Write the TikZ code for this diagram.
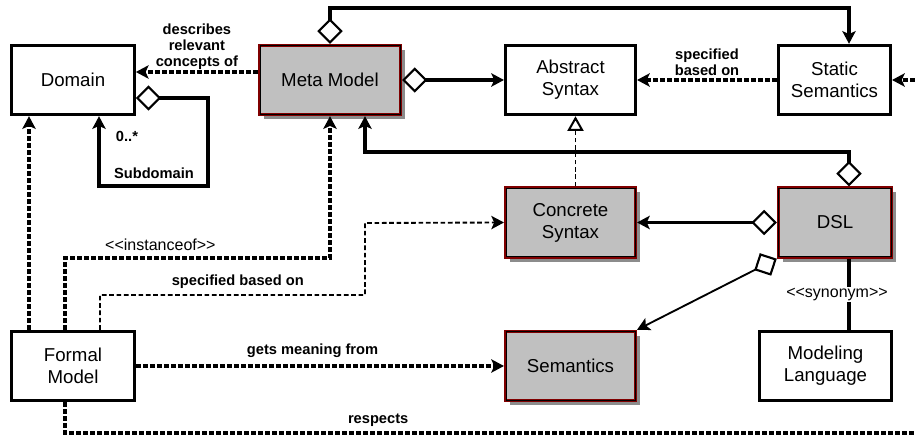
\documentclass[tikz,border=0pt]{standalone}
\usepackage{fontspec}
\setmainfont{Liberation Sans}
\usetikzlibrary{arrows.meta,positioning,calc,shadows}
\definecolor{boxgrey}{RGB}{192,192,192}
\definecolor{boxred}{RGB}{128,0,0}
\newcommand\stlt{<\kern0pt<}
\newcommand\stgt{>\kern0pt>}

\tikzset{
  box/.style={draw, line width=2.3pt, fill=white, minimum height=52pt, align=center,
    font=\fontsize{14}{16.5}\selectfont, inner sep=2pt},
  greybox/.style={box, draw=boxred, fill=boxgrey,
    drop shadow={shadow xshift=3.5pt, shadow yshift=-3.5pt, fill=black!45, opacity=1}},
  rim/.style={draw=black, line width=0.7pt},
  lbl/.style={font=\bfseries\fontsize{11}{12}\selectfont, align=center, inner sep=1pt},
  stereo/.style={font=\fontsize{12}{13}\selectfont, inner sep=1pt},
  solidl/.style={line width=2.3pt},
  thinl/.style={line width=1.4pt},
  dashl/.style={line width=2.3pt, dash pattern=on 3.75pt off 1.5pt},
  thindash/.style={line width=1.4pt, dash pattern=on 3.5pt off 2pt},
  tip/.style={-{Stealth[length=9.5pt,width=10pt,inset=2.2pt]}},
  agg/.style={{Diamond[fill=white,length=19pt,width=19pt,line width=1.6pt]}-{Stealth[length=9.5pt,width=10pt,inset=2.2pt]}},
  realize/.style={-{Triangle[fill=white,length=11pt,width=12pt,line width=1.5pt]}},
}

\begin{document}
\begin{tikzpicture}[x=0.75pt,y=-0.75pt]
\useasboundingbox (0,0) rectangle (915,438);
\clip (0,0) rectangle (915,438);

% boxes
\node[box, minimum width=92pt] (domain) at (73,80) {Domain};
\node[greybox, minimum width=105.75pt] (meta) at (330,80) {Meta Model};
\node[box, minimum width=97.5pt] (abstract) at (570.5,80) {Abstract\\Syntax};
\node[box, minimum width=84pt] (static) at (834.5,80) {Static\\Semantics};
\node[greybox, minimum width=97.5pt] (concrete) at (570.5,222.5) {Concrete\\Syntax};
\node[greybox, minimum width=85pt] (dsl) at (835,222.5) {DSL};
\node[greybox, minimum width=97.5pt] (semantics) at (570.5,366) {Semantics};
\node[box, minimum width=99pt] (modeling) at (825.5,366) {Modeling\\Language};
\node[box, minimum width=92pt] (formal) at (73,366) {Formal\\Model};

% black inner rim of the grey boxes
\foreach \n in {meta,concrete,dsl,semantics}
  \draw[rim] ($(\n.south west)+(1.5pt,1.5pt)$) rectangle ($(\n.north east)-(1.5pt,1.5pt)$);

% corners
\coordinate (rx) at (849,0);
\coordinate (toprow) at (0,8);
\coordinate (mmid) at (365,152);
\coordinate (dy) at (0,72);
\coordinate (subr) at (208,186);
\coordinate (inst) at (65,258);
\coordinate (spec) at (100,295);
\coordinate (specr) at (365,223);
\coordinate (rb) at (935,433);

% meta model
\draw[solidl, agg] (meta.north) -- (meta.north |- toprow) -| (static.north -| rx);
\draw[solidl, agg] (meta.east) -- (abstract.west);
\draw[dashl, tip] (meta.west |- dy) -- node[lbl, above=0pt] {describes\\relevant\\concepts of} (domain.east |- dy);
\draw[dashl, tip] (static.west) -- node[lbl, above=1pt] {specified\\based on} (abstract.east);

% subdomain
\draw[solidl, agg] ($(domain.east)+(0,18)$) -| (subr) -| ($(domain.south)+(26,0)$);
\node[lbl] (mult) at (127,136) {0..*};
\node[lbl] (subname) at (154,173) {Subdomain};

% dsl
\draw[solidl, agg] (dsl.north -| rx) |- (mmid) -- (meta.south -| mmid);
\draw[solidl, agg] (dsl.west) -- (concrete.east);
\draw[thinl, agg] (dsl.south west) -- (semantics.north east);
\draw[solidl] (dsl.south -| rx) -- node[stereo, fill=white, xshift=-9pt] {\stlt synonym\stgt} (modeling.north -| rx);
\draw[thindash, realize] ($(concrete.north)+(5,0)$) -- ($(abstract.south)+(5,0)$);

% formal model
\draw[dashl, tip] ($(formal.north)+(-44,0)$) -- ($(domain.south)+(-44,0)$);
\draw[dashl, tip] (formal.north -| inst) -- (inst) -| node[stereo, above=3pt, pos=0.18] {\stlt instanceof\stgt} (meta.south);
\draw[thindash, tip] (formal.north -| spec) -- (spec) -| node[lbl, above=3pt, pos=0.26] {specified based on} (specr) -- (concrete.west);
\draw[dashl, tip] (formal.east) -- node[lbl, above=4pt, pos=0.48] {gets meaning from} (semantics.west);
\draw[dashl, tip] (formal.south -| inst) |- node[lbl, above=3pt, pos=0.68] {respects} (rb) |- (static.east);
\end{tikzpicture}
\end{document}
